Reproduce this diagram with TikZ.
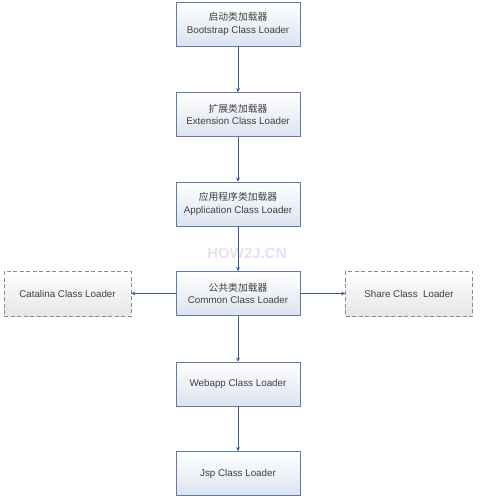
\documentclass[tikz,border=0pt]{standalone}
\usepackage{fontspec}
\setmainfont{Liberation Sans}
\newfontfamily\cjk{Noto Sans CJK SC}
\usetikzlibrary{arrows.meta,shadings}
\definecolor{boxborder}{HTML}{5E7BAA}
\definecolor{boxbottom}{HTML}{DCE3EF}
\definecolor{dashborder}{HTML}{8A8A8A}
\definecolor{dashbottom}{HTML}{E6E6E6}
\definecolor{arrowcol}{HTML}{3A5A92}
\definecolor{txt}{HTML}{404040}
\tikzset{
  loader/.style={draw=boxborder, line width=0.8pt, top color=white, bottom color=boxbottom,
    minimum width=124pt, minimum height=44pt, align=center, font=\fontsize{9.8}{12.5}\selectfont, text=txt, inner sep=0pt},
  side/.style={draw=dashborder, dashed, dash pattern=on 4pt off 2.5pt, line width=0.7pt, top color=white, bottom color=dashbottom,
    minimum width=127pt, minimum height=45pt, align=center, font=\fontsize{9.8}{12.5}\selectfont, text=txt, inner sep=0pt},
  link/.style={draw=arrowcol, line width=0.8pt, -{Stealth[length=4pt,width=4pt]}}
}
\begin{document}
\begin{tikzpicture}[x=1pt,y=-1pt]
\useasboundingbox (0,0) rectangle (479,500);
\node[loader] (boot) at (238,24) {{\cjk 启动类加载器}\\Bootstrap Class Loader};
\node[loader] (ext) at (238,114.5) {{\cjk 扩展类加载器}\\Extension Class Loader};
\node[loader] (app) at (238,204) {{\cjk 应用程序类加载器}\\Application Class Loader};
\node[loader] (common) at (238,293.5) {{\cjk 公共类加载器}\\Common Class Loader};
\node[side] (cat) at (67.5,293.5) {Catalina Class Loader};
\node[side] (share) at (409,293.5) {Share Class\ \ Loader};
\node[loader] (web) at (238,384) {Webapp Class Loader};
\node[loader] (jsp) at (238,473.5) {Jsp Class Loader};
\node[font=\bfseries\fontsize{15}{15}\selectfont, text=black!10] (wm) at (247,253) {HOW2J\textcolor{blue!12}{.CN}};
\draw[link] (boot) -- (ext);
\draw[link] (ext) -- (app);
\draw[link] (app) -- (common);
\draw[link] (common) -- (cat);
\draw[link] (common) -- (share);
\draw[link] (common) -- (web);
\draw[link] (web) -- (jsp);
\end{tikzpicture}
\end{document}
